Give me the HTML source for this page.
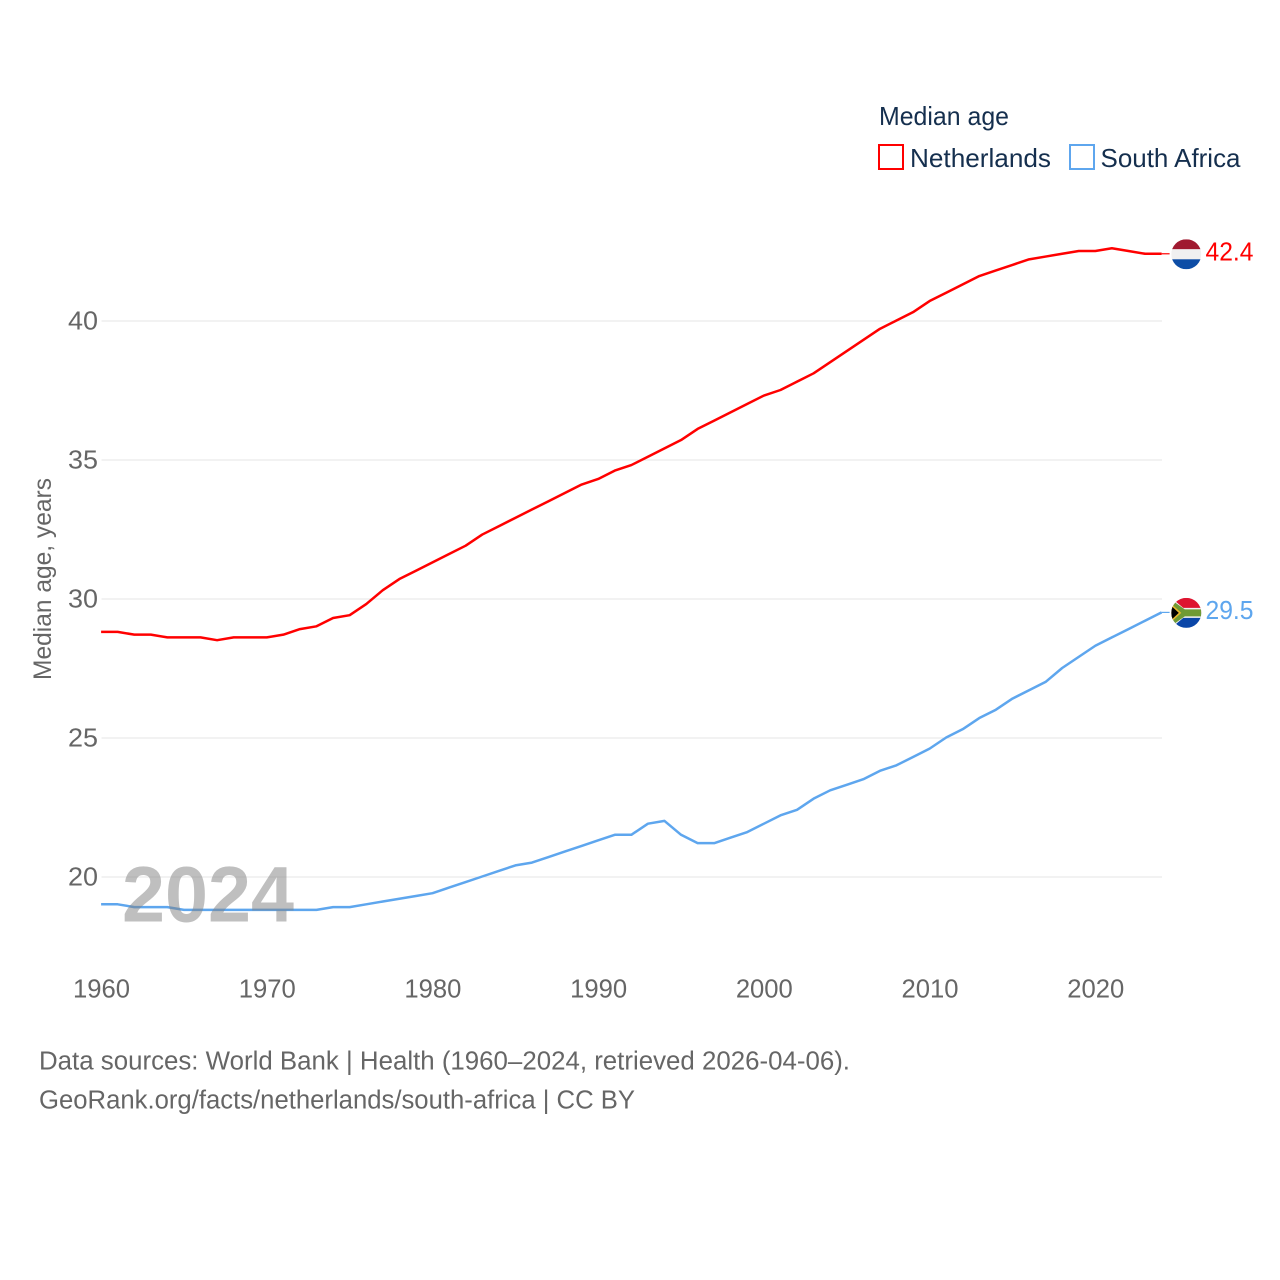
<!DOCTYPE html>
<html lang="en">
<head>
<meta charset="utf-8">
<title>Median age: Netherlands and South Africa</title>
<style>
html,body{margin:0;padding:0;background:#fff;width:1280px;height:1280px;overflow:hidden}
svg{display:block;font-family:"Liberation Sans",sans-serif}
</style>
</head>
<body>
<svg id="chart" xmlns="http://www.w3.org/2000/svg" width="1280" height="1280" viewBox="0 0 1280 1280">
  <defs>
    <clipPath id="flag-clip"><circle cx="0" cy="0" r="15"></circle></clipPath>
  </defs>
  <rect x="0" y="0" width="1280" height="1280" fill="#ffffff"></rect>
  <g id="grid"></g>
  <g id="y-ticks"></g>
  <g id="x-ticks"></g>
  <text transform="translate(51,680) rotate(-90)" font-size="25" fill="#666666" textLength="202" lengthAdjust="spacingAndGlyphs">Median age, years</text>
  <g id="series" transform="translate(-0.4,-0.5)"></g>
  <text x="122" y="921.5" font-size="79" font-weight="bold" fill="#808080" fill-opacity="0.5" textLength="172" lengthAdjust="spacingAndGlyphs">2024</text>

  <g id="flag-netherlands">
    <g clip-path="url(#flag-clip)">
      <rect x="-15" y="-15" width="30" height="10" fill="#a01a30"></rect>
      <rect x="-15" y="-5" width="30" height="10" fill="#f0f0f0"></rect>
      <rect x="-15" y="5" width="30" height="10" fill="#0d4da6"></rect>
    </g>
  </g>
  <g id="flag-south-africa">
    <g clip-path="url(#flag-clip)">
      <rect x="-15" y="-15" width="30" height="15" fill="#de1530"></rect>
      <rect x="-15" y="0" width="30" height="15" fill="#0a46a8"></rect>
      <path d="M-15,-15 L-3,-5 H15 V5 H-3 L-15,15 Z" fill="#f2f2f2"></path>
      <path d="M-15,-13 L-1.5,-3.5 H15 V3.5 H-1.5 L-15,13 Z" fill="#6f9a34"></path>
      <path d="M-15,-9 L-5,0 L-15,9 Z" fill="#e9b92f"></path>
      <path d="M-15,-7 L-7.5,0 L-15,7 Z" fill="#000000"></path>
    </g>
  </g>
  <text id="end-label-netherlands" x="1205.5" font-size="25.5" fill="#ff0000" textLength="48" lengthAdjust="spacingAndGlyphs"></text>
  <text id="end-label-south-africa" x="1205.5" font-size="25.5" fill="#5ea6ee" textLength="48" lengthAdjust="spacingAndGlyphs"></text>

  <g>
    <text x="879" y="125" font-size="26" fill="#152f4e" textLength="130" lengthAdjust="spacingAndGlyphs">Median age</text>
    <g>
      <rect x="879" y="145" width="24" height="24" fill="#ffffff" stroke="#ff0000" stroke-width="2"></rect>
      <text x="910" y="167" font-size="26" fill="#152f4e" textLength="141" lengthAdjust="spacingAndGlyphs">Netherlands</text>
    </g>
    <g>
      <rect x="1070" y="145" width="24" height="24" fill="#ffffff" stroke="#5ea6ee" stroke-width="2"></rect>
      <text x="1100.5" y="167" font-size="26" fill="#152f4e" textLength="140" lengthAdjust="spacingAndGlyphs">South Africa</text>
    </g>
  </g>

  <text x="39" y="1069.5" font-size="25.5" fill="#666666" textLength="811" lengthAdjust="spacingAndGlyphs">Data sources: World Bank | Health (1960–2024, retrieved 2026-04-06).</text>
  <text x="39" y="1108.5" font-size="25.5" fill="#666666" textLength="596" lengthAdjust="spacingAndGlyphs">GeoRank.org/facts/netherlands/south-africa | CC BY</text>
</svg>
<script>
const years = [1960,1961,1962,1963,1964,1965,1966,1967,1968,1969,1970,1971,1972,1973,1974,1975,1976,1977,1978,1979,1980,1981,1982,1983,1984,1985,1986,1987,1988,1989,1990,1991,1992,1993,1994,1995,1996,1997,1998,1999,2000,2001,2002,2003,2004,2005,2006,2007,2008,2009,2010,2011,2012,2013,2014,2015,2016,2017,2018,2019,2020,2021,2022,2023,2024];
const netherlandsValues = [28.8,28.8,28.7,28.7,28.6,28.6,28.6,28.5,28.6,28.6,28.6,28.7,28.9,29.0,29.3,29.4,29.8,30.3,30.7,31.0,31.3,31.6,31.9,32.3,32.6,32.9,33.2,33.5,33.8,34.1,34.3,34.6,34.8,35.1,35.4,35.7,36.1,36.4,36.7,37.0,37.3,37.5,37.8,38.1,38.5,38.9,39.3,39.7,40.0,40.3,40.7,41.0,41.3,41.6,41.8,42.0,42.2,42.3,42.4,42.5,42.5,42.6,42.5,42.4,42.4];
const southAfricaValues = [19.0,19.0,18.9,18.9,18.9,18.8,18.8,18.8,18.8,18.8,18.8,18.8,18.8,18.8,18.9,18.9,19.0,19.1,19.2,19.3,19.4,19.6,19.8,20.0,20.2,20.4,20.5,20.7,20.9,21.1,21.3,21.5,21.5,21.9,22.0,21.5,21.2,21.2,21.4,21.6,21.9,22.2,22.4,22.8,23.1,23.3,23.5,23.8,24.0,24.3,24.6,25.0,25.3,25.7,26.0,26.4,26.7,27.0,27.5,27.9,28.3,28.6,28.9,29.2,29.5];
const yTickLabels = [20,25,30,35,40];
const xTickLabels = [1960,1970,1980,1990,2000,2010,2020];

const SVG_NS = 'http://www.w3.org/2000/svg';
const plotLeft = 101.5;
const plotRight = 1162;
function xScale(year) {
  return plotLeft + (year - 1960) * (plotRight - plotLeft) / (2024 - 1960);
}
function yScale(value) {
  return 877 - (value - 20) * (877 - 321) / (40 - 20);
}

const gridGroup = document.getElementById('grid');
const yTickGroup = document.getElementById('y-ticks');
const xTickGroup = document.getElementById('x-ticks');
const seriesGroup = document.getElementById('series');

yTickLabels.forEach(function (tick) {
  const line = document.createElementNS(SVG_NS, 'line');
  
  
  line.setAttribute('x1', plotLeft);
  line.setAttribute('x2', plotRight);
  line.setAttribute('y1', yScale(tick));
  line.setAttribute('y2', yScale(tick));
  line.setAttribute('stroke', '#e6e6e6');
  line.setAttribute('stroke-width', '1');
  gridGroup.appendChild(line);

  const label = document.createElementNS(SVG_NS, 'text');
  
  
  label.setAttribute('x', 68);
  label.setAttribute('y', yScale(tick) + 8.5);
  label.setAttribute('font-size', '25.5');
  label.setAttribute('textLength', '30');
  label.setAttribute('lengthAdjust', 'spacingAndGlyphs');
  label.setAttribute('fill', '#666666');
  label.textContent = tick;
  yTickGroup.appendChild(label);
});

xTickLabels.forEach(function (tick) {
  const label = document.createElementNS(SVG_NS, 'text');
  
  
  label.setAttribute('x', xScale(tick) - 28.5);
  label.setAttribute('y', 997.5);
  label.setAttribute('font-size', '25.5');
  label.setAttribute('textLength', '57');
  label.setAttribute('lengthAdjust', 'spacingAndGlyphs');
  label.setAttribute('fill', '#666666');
  label.textContent = tick;
  xTickGroup.appendChild(label);
});

function drawSeries(values, colour, seriesName) {
  const points = values.map(function (value, i) {
    return xScale(years[i]).toFixed(2) + ',' + yScale(value).toFixed(2);
  });
  const lastY = yScale(values[values.length - 1]).toFixed(2);
  const line = document.createElementNS(SVG_NS, 'polyline');
  
  
  line.setAttribute('points', points.join(' '));
  line.setAttribute('fill', 'none');
  line.setAttribute('stroke', colour);
  line.setAttribute('stroke-width', '2.5');
  line.setAttribute('stroke-linejoin', 'round');
  seriesGroup.appendChild(line);

  const connector = document.createElementNS(SVG_NS, 'line');
  
  
  connector.setAttribute('x1', plotRight);
  connector.setAttribute('x2', plotRight + 8);
  connector.setAttribute('y1', lastY);
  connector.setAttribute('y2', lastY);
  connector.setAttribute('stroke', colour);
  connector.setAttribute('stroke-width', '1.2');
  seriesGroup.appendChild(connector);
}
drawSeries(netherlandsValues, '#ff0000', 'netherlands-line');
drawSeries(southAfricaValues, '#5ea6ee', 'south-africa-line');

function placeEnd(values, flagId, labelId) {
  const last = values[values.length - 1];
  const y = yScale(last);
  document.getElementById(flagId).setAttribute('transform', 'translate(1186.3,' + y.toFixed(2) + ')');
  const label = document.getElementById(labelId);
  label.setAttribute('y', (y + 6).toFixed(2));
  label.textContent = last.toFixed(1);
}
placeEnd(netherlandsValues, 'flag-netherlands', 'end-label-netherlands');
placeEnd(southAfricaValues, 'flag-south-africa', 'end-label-south-africa');
</script>
</body>
</html>
